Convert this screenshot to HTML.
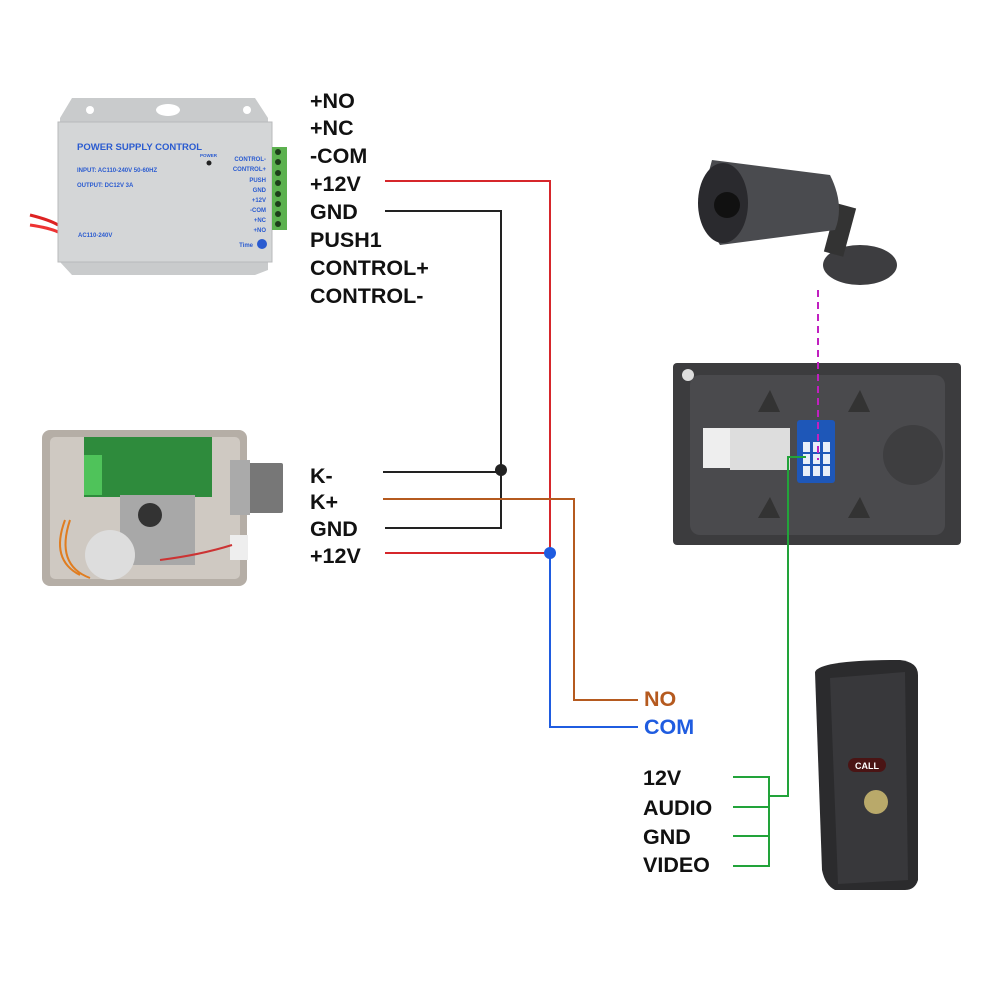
<!DOCTYPE html>
<html><head><meta charset="utf-8"><style>
html,body{margin:0;padding:0;background:#fff;}
svg{display:block}
text{font-family:"Liberation Sans",Arial,sans-serif;font-weight:bold;}
</style></head><body>
<svg width="1000" height="1000" viewBox="0 0 1000 1000" xmlns="http://www.w3.org/2000/svg">
<rect width="1000" height="1000" fill="#fff"/>

<!-- Power supply -->
<path d="M30 215 Q50 220 58 225" stroke="#d22" stroke-width="3" fill="none"/>
<path d="M30 225 Q50 228 58 232" stroke="#e33" stroke-width="3" fill="none"/>
<polygon points="72,98 255,98 268,118 268,270 255,275 72,275 60,262 60,118" fill="#c9cbcc"/>
<rect x="58" y="122" width="214" height="140" fill="#d4d6d7" stroke="#b8babb"/>
<circle cx="90" cy="110" r="4" fill="#fff"/><circle cx="247" cy="110" r="4" fill="#fff"/>
<ellipse cx="168" cy="110" rx="12" ry="6" fill="#fff"/>
<text x="77" y="150" font-size="9.5" fill="#2a5bd0">POWER SUPPLY CONTROL</text>
<text x="77" y="172" font-size="6" font-weight="normal" fill="#2a5bd0">INPUT: AC110-240V 50-60HZ</text>
<text x="77" y="187" font-size="6" font-weight="normal" fill="#2a5bd0">OUTPUT: DC12V  3A</text>
<text x="78" y="237" font-size="6" font-weight="normal" fill="#2a5bd0">AC110-240V</text>
<text x="200" y="157" font-size="4.5" font-weight="normal" fill="#2a5bd0">POWER</text>
<circle cx="209" cy="163" r="2.5" fill="#222"/>
<g font-size="6" font-weight="normal" fill="#2a5bd0" text-anchor="end">
<text x="266" y="161">CONTROL-</text><text x="266" y="171">CONTROL+</text><text x="266" y="182">PUSH</text>
<text x="266" y="192">GND</text><text x="266" y="202">+12V</text><text x="266" y="212">-COM</text>
<text x="266" y="222">+NC</text><text x="266" y="232">+NO</text><text x="253" y="247">Time</text></g>
<circle cx="262" cy="244" r="5" fill="#2a5bd0"/>
<rect x="272" y="147" width="15" height="83" fill="#5cb14f"/>
<g fill="#1d3d1a"><circle cx="278" cy="152" r="3"/><circle cx="278" cy="162" r="3"/><circle cx="278" cy="173" r="3"/><circle cx="278" cy="183" r="3"/><circle cx="278" cy="194" r="3"/><circle cx="278" cy="204" r="3"/><circle cx="278" cy="214" r="3"/><circle cx="278" cy="224" r="3"/></g>

<!-- Lock -->
<rect x="245" y="463" width="38" height="50" fill="#777" rx="2"/>
<rect x="42" y="430" width="205" height="156" rx="8" fill="#b5aea6"/>
<rect x="50" y="437" width="190" height="142" rx="5" fill="#cfc9c2"/>
<rect x="84" y="437" width="128" height="60" fill="#2e8b3c"/>
<rect x="84" y="455" width="18" height="40" fill="#4fc35a"/>
<rect x="120" y="495" width="75" height="70" fill="#a8a8a8"/>
<circle cx="110" cy="555" r="25" fill="#ddd"/>
<circle cx="150" cy="515" r="12" fill="#333"/>
<rect x="230" y="460" width="20" height="55" fill="#aaa"/>
<rect x="230" y="535" width="18" height="25" fill="#eee"/>
<path d="M65 520 Q50 560 80 575 M70 520 Q55 565 90 578" stroke="#e07d20" stroke-width="2" fill="none"/>
<path d="M160 560 Q200 555 232 545" stroke="#c33" stroke-width="2" fill="none"/>

<!-- Camera -->
<ellipse cx="860" cy="265" rx="37" ry="20" fill="#3d3d40"/>
<rect x="830" y="205" width="20" height="50" fill="#333" transform="rotate(15 840 230)"/>
<path d="M712 160 L830 175 Q845 205 835 230 L720 245 Q697 210 712 160Z" fill="#4a4b4f"/>
<ellipse cx="723" cy="203" rx="25" ry="40" fill="#2a2a2e"/>
<circle cx="727" cy="205" r="13" fill="#111"/>

<!-- Monitor -->
<rect x="673" y="363" width="288" height="182" rx="4" fill="#3c3c3e"/>
<rect x="690" y="375" width="255" height="160" rx="10" fill="#4a4a4d"/>
<rect x="703" y="428" width="45" height="40" fill="#eee"/>
<rect x="730" y="428" width="60" height="42" fill="#ddd"/>
<rect x="797" y="420" width="38" height="63" rx="3" fill="#1e57b8"/>
<g fill="#e8eef8"><rect x="803" y="442" width="7" height="10"/><rect x="813" y="442" width="7" height="10"/><rect x="823" y="442" width="7" height="10"/><rect x="803" y="466" width="7" height="10"/><rect x="813" y="466" width="7" height="10"/><rect x="823" y="466" width="7" height="10"/><rect x="803" y="454" width="7" height="10"/><rect x="813" y="454" width="7" height="10"/><rect x="823" y="454" width="7" height="10"/></g>
<circle cx="913" cy="455" r="30" fill="#3e3e40"/>
<circle cx="688" cy="375" r="6" fill="#ddd"/>
<polygon points="770,390 758,412 780,412" fill="#333"/><polygon points="860,390 848,412 870,412" fill="#333"/>
<polygon points="770,497 758,518 780,518" fill="#333"/><polygon points="860,497 848,518 870,518" fill="#333"/>

<!-- Doorbell -->
<path d="M815 672 Q820 660 900 660 Q918 662 918 675 L918 880 Q915 890 905 890 L835 890 Q825 885 822 870 Z" fill="#2b2b2d"/>
<path d="M830 678 L905 672 L908 880 L838 884Z" fill="#38383b"/>
<rect x="848" y="758" width="38" height="14" rx="7" fill="#4a1414"/>
<text x="867" y="769" font-size="9" font-family="Liberation Serif" fill="#fff" text-anchor="middle">CALL</text>
<circle cx="876" cy="802" r="12" fill="#b9a96a"/>

<!-- Wires -->
<g fill="none" stroke-width="2">
<polyline points="385,181 550,181 550,553" stroke="#d6262b"/>
<polyline points="385,211 501,211 501,528 385,528" stroke="#222"/>
<line x1="383" y1="472" x2="501" y2="472" stroke="#222"/>
<polyline points="383,499 574,499 574,700 638,700" stroke="#b55a1f"/>
<line x1="385" y1="553" x2="550" y2="553" stroke="#d6262b"/>
<polyline points="550,553 550,727 638,727" stroke="#1f5ce0"/>
<line x1="818" y1="290" x2="818" y2="460" stroke="#c020c0" stroke-dasharray="7,5"/>
<polyline points="806,457 788,457 788,796 769,796" stroke="#22a33a"/>
<polyline points="733,777 769,777 769,866 733,866" stroke="#22a33a"/>
<line x1="733" y1="807" x2="769" y2="807" stroke="#22a33a"/>
<line x1="733" y1="836" x2="769" y2="836" stroke="#22a33a"/>
</g>
<circle cx="501" cy="470" r="6" fill="#222"/>
<circle cx="550" cy="553" r="6" fill="#1f5ce0"/>

<!-- Labels -->
<g font-size="21.5" fill="#111">
<text x="310" y="108">+NO</text><text x="310" y="135">+NC</text><text x="310" y="163">-COM</text>
<text x="310" y="191">+12V</text><text x="310" y="219">GND</text><text x="310" y="247">PUSH1</text>
<text x="310" y="275">CONTROL+</text><text x="310" y="303">CONTROL-</text>
<text x="310" y="483">K-</text><text x="310" y="509">K+</text><text x="310" y="536">GND</text><text x="310" y="563">+12V</text>
<text x="643" y="785">12V</text><text x="643" y="815">AUDIO</text><text x="643" y="844">GND</text><text x="643" y="872">VIDEO</text>
</g>
<text x="644" y="706" font-size="21.5" fill="#b55a1f">NO</text>
<text x="644" y="734" font-size="21.5" fill="#1f5ce0">COM</text>
</svg>
</body></html>
